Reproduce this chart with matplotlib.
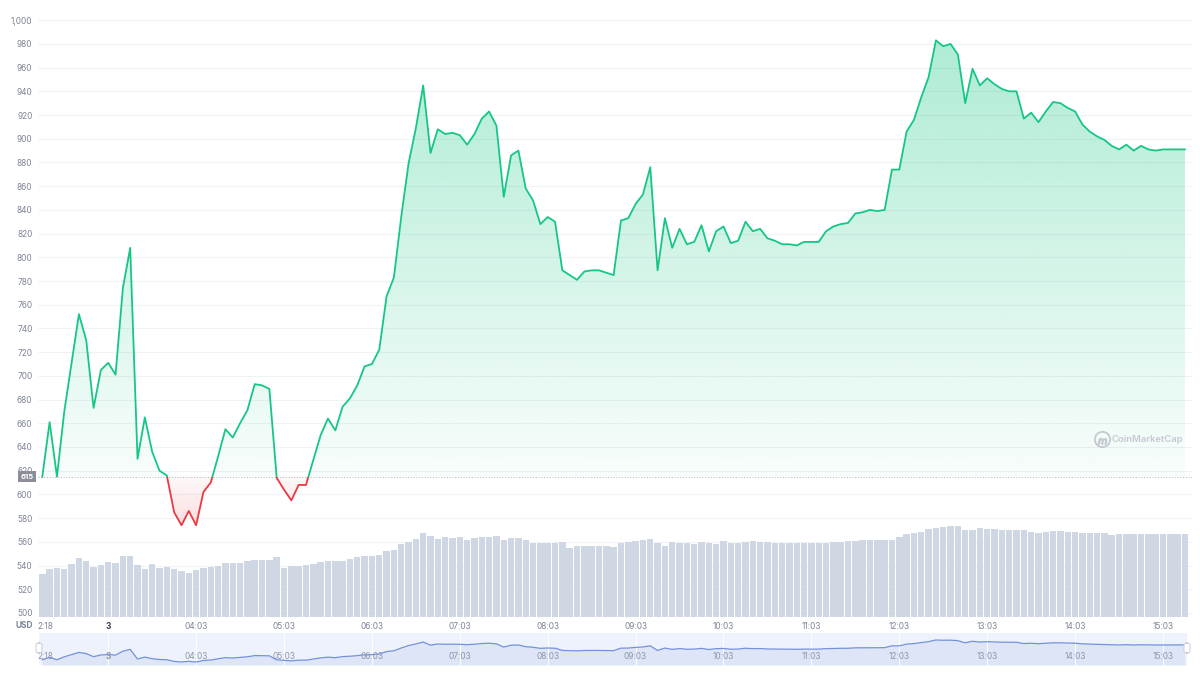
import numpy as np
import matplotlib
matplotlib.use('Agg')
import matplotlib.pyplot as plt
from matplotlib.patches import Rectangle, FancyBboxPatch
from matplotlib.path import Path
from matplotlib.transforms import blended_transform_factory

plt.rcParams['font.family'] = ['Inter', 'DejaVu Sans']

# 5 minute samples, first one at 02:18
start_hour = 2 + 18 / 60
step = 5 / 60
open_price = 615

price = [
    615, 661, 615, 670, 711, 752, 730, 673, 705, 711,
    701, 774, 808, 630, 665, 636, 620, 616, 585, 574,
    586, 574, 602, 610, 632, 655, 648, 660, 671, 693,
    692, 689, 614, 604, 595, 608, 608, 629, 650, 664,
    654, 674, 681, 692, 708, 710, 722, 767, 783, 834,
    879, 909, 945, 888, 908, 904, 905, 903, 895, 904,
    917, 923, 911, 851, 886, 890, 858, 848, 828, 834,
    830, 789, 785, 781, 788, 789, 789, 787, 785, 831,
    833, 845, 853, 876, 789, 833, 808, 824, 811, 813,
    827, 805, 822, 826, 812, 814, 830, 822, 824, 816,
    814, 811, 811, 810, 813, 813, 813, 822, 826, 828,
    829, 837, 838, 840, 839, 840, 874, 874, 906, 916,
    935, 952, 983, 978, 980, 971, 930, 959, 945, 951,
    946, 942, 940, 940, 917, 922, 914, 923, 931, 930,
    926, 923, 912, 906, 902, 899, 894, 891, 895, 890,
    894, 891, 890, 891, 891, 891, 891,
]

# volume, arbitrary units (read as bar heights)
volume = [
    42.7, 48, 48.7, 47.7, 53.3, 58.7, 55.7, 50.3, 51.7, 55,
    54.3, 61.3, 61.3, 51.7, 48, 52.7, 48.7, 50, 47.7, 46,
    44.3, 47.3, 48.7, 50, 51.3, 54.3, 53.7, 53.7, 56.3, 57.3,
    56.7, 57, 60, 49.3, 51.3, 50.7, 51.7, 53, 54.7, 56,
    56, 56.3, 58.3, 60, 60.7, 60.7, 62, 65.7, 67, 72.7,
    75.3, 77.7, 83.7, 81.3, 78, 80, 78.7, 79.7, 77, 79.3,
    80, 79.7, 81, 77, 78.7, 78.7, 77, 74.3, 74, 74,
    74, 75, 69.3, 70.7, 70.7, 70.7, 70.7, 70.7, 70, 74.3,
    75, 75.7, 77, 78, 74.3, 71.3, 75, 73.7, 74.3, 73.3,
    75, 74, 73, 75.7, 74.3, 73.7, 75, 75.7, 75, 75,
    74.3, 74, 74, 73.7, 73.7, 73.7, 74, 74.3, 74.7, 75.3,
    75.7, 76.3, 76.7, 76.7, 76.7, 76.7, 77, 80.3, 82.7, 84,
    85.3, 87.7, 89.3, 90, 90.7, 90.7, 87, 86.7, 88.7, 87.7,
    87.7, 86.7, 86.7, 86.7, 86.7, 85, 84.3, 85.3, 86, 86,
    85.3, 85.3, 84.3, 84, 83.7, 83.7, 81.7, 83, 83, 83,
    83, 83, 83, 83, 83, 83, 83,
]

tick_hours = [2.33, 3.05, 4.05, 5.05, 6.05, 7.05, 8.05, 9.05, 10.05,
              11.05, 12.05, 13.05, 14.05, 15.05]
tick_labels = ['2:18', '3', '04:03', '05:03', '06:03', '07:03', '08:03',
               '09:03', '10:03', '11:03', '12:03', '13:03', '14:03', '15:03']
y_ticks = list(range(500, 1001, 20))

GREEN = '#16c784'
RED = '#ea3943'
GREY = '#7d8497'

price = np.array(price, dtype=float)
t = start_hour + np.arange(len(price)) * step

W, H = 1200, 675
fig = plt.figure(figsize=(W / 100, H / 100), dpi=100)

rect = [38 / W, (H - 617) / H, (1192 - 38) / W, (617 - 16.4) / H]
x0 = start_hour - 0.587 * step
x1 = start_hour + 156.96 * step
ylo, yhi = 496.6, 1003.2

vax = fig.add_axes(rect, zorder=1)
ax = fig.add_axes(rect, zorder=2)
ax.patch.set_visible(False)

# volume bars + grid behind everything
vax.set_xlim(x0, x1)
vax.set_ylim(0, 600.6)
vax.axis('off')
ax.set_xlim(x0, x1)
ax.set_ylim(ylo, yhi)
grid_tr = blended_transform_factory(vax.transAxes, ax.transData)
vax.hlines(y_ticks, 0, 1, transform=grid_tr, color='#f1f2f5', lw=0.8, zorder=0)
vax.bar(t, volume, width=step * 0.88, color='#cfd6e4', linewidth=0, zorder=2)

# gradient fills above / below the opening price
up = ax.fill_between(t, price, open_price, where=price >= open_price, interpolate=True)
up_path = Path.make_compound_path(*up.get_paths())
up.remove()
dn = ax.fill_between(t, price, open_price, where=price <= open_price, interpolate=True)
dn_path = Path.make_compound_path(*dn.get_paths())
dn.remove()

g = np.zeros((256, 1, 4))
g[:, 0, :3] = matplotlib.colors.to_rgb(GREEN)
g[:, 0, 3] = np.linspace(0.03, 0.36, 256)
im = ax.imshow(g, extent=[x0, x1, open_price, 1000], origin='lower',
               aspect='auto', zorder=2, interpolation='bilinear')
im.set_clip_path(up_path, ax.transData)

r = np.zeros((256, 1, 4))
r[:, 0, :3] = matplotlib.colors.to_rgb(RED)
r[:, 0, 3] = np.linspace(0.2, 0.03, 256)
im2 = ax.imshow(r, extent=[x0, x1, 565, open_price], origin='lower',
                aspect='auto', zorder=2, interpolation='bilinear')
im2.set_clip_path(dn_path, ax.transData)

ax.set_xlim(x0, x1)
ax.set_ylim(ylo, yhi)

# price line, green above the open, red below
ln_up, = ax.plot(t, price, color=GREEN, lw=1.3, zorder=4)
ln_up.set_clip_path(Rectangle((x0, open_price), x1 - x0, 1000, transform=ax.transData))
ln_dn, = ax.plot(t, price, color=RED, lw=1.3, zorder=4)
ln_dn.set_clip_path(Rectangle((x0, 0), x1 - x0, open_price, transform=ax.transData))

ax.axhline(open_price, color='#b9bdc8', lw=0.8, ls=(0, (1, 1.5)), zorder=3)

for s in ax.spines.values():
    s.set_visible(False)
ax.set_yticks(y_ticks, [f'{v:,}' for v in y_ticks])
ax.set_xticks(tick_hours, tick_labels)
ax.tick_params(axis='y', length=0, pad=4, labelsize=6, labelcolor=GREY)
ax.tick_params(axis='x', length=0, pad=3.5, labelsize=6, labelcolor=GREY)
lbl = ax.get_xticklabels()[1]
lbl.set_fontweight('bold')
lbl.set_color('#3a3f4d')

ax.annotate(str(open_price), xy=(0, open_price),
            xycoords=blended_transform_factory(ax.transAxes, ax.transData),
            xytext=(-11, 0), textcoords='offset pixels', ha='center', va='center',
            fontsize=5.5, fontweight='bold', color='white', zorder=10,
            annotation_clip=False,
            bbox=dict(boxstyle='square,pad=0.35', fc='#8b8e99', ec='none'))

fig.text(16 / W, 1 - 626 / H, 'USD', fontsize=6, fontweight='bold',
         color=GREY, va='center')

# watermark
ax.text(0.992, 0.296, 'CoinMarketCap', transform=ax.transAxes, ha='right',
        va='center', fontsize=6.8, fontweight='semibold', color='#c6c9d2')
ax.plot([0.922], [0.296], transform=ax.transAxes, marker='o', ms=11,
        mfc='none', mec='#c6c9d2', mew=1.3)
ax.plot([0.922], [0.293], transform=ax.transAxes, marker='$m$', ms=6,
        color='#c6c9d2')

# navigator strip
nax = fig.add_axes([39 / W, (H - 665) / H, (1187 - 39) / W, 32 / H])
nax.set_facecolor('#eef2fc')
nax.set_xlim(start_hour - 0.45 * step, start_hour + 156.3 * step)
nax.set_ylim(518, 1113)
nax.fill_between(t, price, 518, color='#dde5f7', lw=0)
nax.plot(t, price, color='#7392db', lw=0.9)
for h in tick_hours[1:]:
    nax.axvline(h, color='white', lw=0.7, zorder=1)
for h, s in zip(tick_hours, tick_labels):
    nax.text(h, 0.27, s, transform=nax.get_xaxis_transform(), ha='center',
             va='center', fontsize=6, color='#8e96ab',
             fontweight='bold' if s == '3' else 'normal')
nax.set_xticks([])
nax.set_yticks([])
for s in nax.spines.values():
    s.set_visible(False)

for px in (36, 1184):
    fig.add_artist(FancyBboxPatch((px / W, (H - 653) / H), 6 / W, 10 / H,
                                  boxstyle='round,pad=0,rounding_size=0.003',
                                  transform=fig.transFigure, fc='white',
                                  ec='#c9ccd6', lw=0.7))

fig.savefig('out.png', dpi=100)
